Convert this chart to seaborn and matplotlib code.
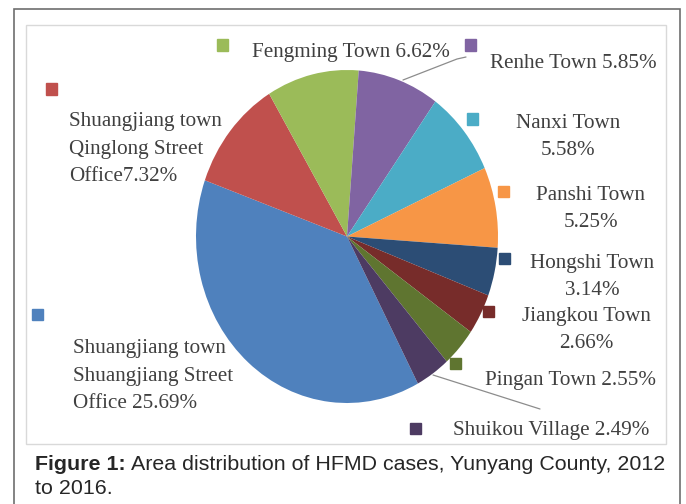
import matplotlib
matplotlib.use("Agg")
import matplotlib.pyplot as plt
import seaborn as sns
from matplotlib.patches import Rectangle
from matplotlib.lines import Line2D

# data: share of HFMD cases by area (Excel default colours)
areas = ['Shuangjiang town\nShuangjiang Street\nOffice', 'Shuangjiang town\nQinglong Street\nOffice',
         'Fengming Town', 'Renhe Town', 'Nanxi Town', 'Panshi Town',
         'Hongshi Town', 'Jiangkou Town', 'Pingan Town', 'Shuikou Village']
shares = [25.69, 7.32, 6.62, 5.85, 5.58, 5.25, 3.14, 2.66, 2.55, 2.49]
label_texts = ['Shuangjiang town\nShuangjiang Street\nOffice 25.69%',
               'Shuangjiang town\nQinglong Street\nOffice7.32%',
               'Fengming Town 6.62%', 'Renhe Town 5.85%', 'Nanxi Town\n5.58%',
               'Panshi Town\n5.25%', 'Hongshi Town\n3.14%', 'Jiangkou Town\n2.66%',
               'Pingan Town 2.55%', 'Shuikou Village 2.49%']
colors = ['#4F81BD', '#C0504D', '#9BBB59', '#8064A2', '#4BACC6', '#F79646',
          '#2C4D75', '#772C2A', '#5F7530', '#4D3B62']

sns.set_style("white")
palette = sns.color_palette(colors)

W, H = 686, 504
fig = plt.figure(figsize=(W / 100, H / 100), dpi=100)


def fx(x):
    return x / W


def fy(y):
    return 1 - y / H


# pie axes (slightly taller than wide, like the original)
ax = fig.add_axes([fx(196), fy(403), (498 - 196) / W, (403 - 70) / H])
ax.pie(shares, colors=palette, startangle=-62, counterclock=False,
       wedgeprops=dict(linewidth=0))
ax.set_aspect('auto')
ax.set_xlim(-1, 1)
ax.set_ylim(-1, 1)
ax.axis('off')

# frames
fig.patches.append(Rectangle((fx(14), fy(520)), (680 - 14) / W, (520 - 9) / H,
                             transform=fig.transFigure, fill=False,
                             edgecolor='#6e6e6e', linewidth=1.2, zorder=0))
fig.patches.append(Rectangle((fx(26), fy(444)), (666 - 26) / W, (444 - 25) / H,
                             transform=fig.transFigure, fill=False,
                             edgecolor='#d9d9d9', linewidth=1.0, zorder=0))

# label layout: (square x, square y, text x, text y, ha)
layout = [
    (37, 314, 73, 376, 'left'),
    (51, 89, 69, 149, 'left'),
    (222, 45, 252, 52, 'left'),
    (470, 45, 490, 63, 'left'),
    (472, 119, 568, 137, 'center'),
    (503, 192, 591, 209, 'center'),
    (504, 258, 592, 277, 'center'),
    (488, 311, 586, 330, 'center'),
    (455, 363, 485, 380, 'left'),
    (415, 428, 453, 430, 'left'),
]
txt_color = '#404040'
for (sx, sy, tx, ty, ha), text, col in zip(layout, label_texts, palette):
    s = 11
    fig.patches.append(Rectangle((fx(sx - s / 2), fy(sy + s / 2)), s / W, s / H,
                                 transform=fig.transFigure, color=col))
    fig.text(fx(tx), fy(ty), text, ha=ha, va='center', fontsize=15.2,
             family='Liberation Serif', color=txt_color, linespacing=1.62,
             multialignment=ha)

# leader lines
fig.lines.append(Line2D([fx(466), fx(457), fx(403)], [fy(57), fy(59), fy(80)],
                        transform=fig.transFigure, color='#8c8c8c', linewidth=0.9))
fig.lines.append(Line2D([fx(433), fx(540)], [fy(375), fy(409)],
                        transform=fig.transFigure, color='#8c8c8c', linewidth=0.9))

# caption: bold lead-in followed by regular text
lead = fig.text(fx(35), fy(465), 'Figure 1:', fontsize=15.4, fontweight='bold',
                family='Liberation Sans', va='center', ha='left')
fig.canvas.draw()
bb = lead.get_window_extent()
fig.text(bb.x1 / W + 5 / W, fy(465),
         'Area distribution of HFMD cases, Yunyang County, 2012',
         fontsize=15.4, family='Liberation Sans', va='center', ha='left')
fig.text(fx(35), fy(488), 'to 2016.', fontsize=15.4, family='Liberation Sans',
         va='center', ha='left')

fig.savefig('out.png', dpi=100)
